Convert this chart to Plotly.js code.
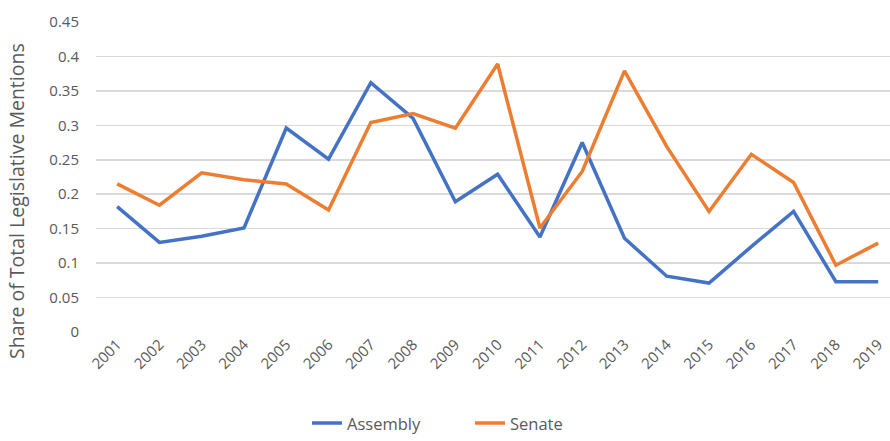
<!DOCTYPE html>
<html>
<head>
<meta charset="utf-8">
<script src="https://cdn.plot.ly/plotly-3.0.1.min.js"></script>
<style>html,body{margin:0;padding:0;background:#fff;}#chart{width:890px;height:441px;}</style>
</head>
<body>
<div id="chart"></div>
<script>
const years = ['2001','2002','2003','2004','2005','2006','2007','2008','2009','2010','2011','2012','2013','2014','2015','2016','2017','2018','2019'];
const assembly = [0.182,0.130,0.139,0.151,0.296,0.251,0.362,0.310,0.189,0.229,0.138,0.275,0.136,0.081,0.071,0.124,0.175,0.073,0.073];
const senate = [0.215,0.184,0.231,0.221,0.215,0.177,0.304,0.317,0.296,0.389,0.151,0.233,0.379,0.269,0.175,0.258,0.217,0.097,0.129];
const yTicks = [0,0.05,0.1,0.15,0.2,0.25,0.3,0.35,0.4,0.45];
const yTickText = ['0','0.05','0.1','0.15','0.2','0.25','0.3','0.35','0.4','0.45'];

const fontFam = 'Liberation Sans Narrow, Open Sans, sans-serif';
const traces = [
  {x: years, y: assembly, name: 'Assembly', type: 'scatter', mode: 'lines',
   line: {color: '#4472C4', width: 3.5}},
  {x: years, y: senate, name: 'Senate', type: 'scatter', mode: 'lines',
   line: {color: '#ED7D31', width: 3.5}}
];
const layout = {
  width: 890, height: 441,
  margin: {l: 96, r: 0, t: 22, b: 109, autoexpand: false},
  paper_bgcolor: '#fff', plot_bgcolor: '#fff',
  font: {family: fontFam, color: '#595959', size: 15},
  showlegend: true,
  legend: {orientation: 'h', x: 0.471, xanchor: 'center', yref: 'container', y: 0.04, yanchor: 'middle',
           font: {size: 16.5, color: '#595959'}, entrywidth: 118, entrywidthmode: 'pixels'},
  xaxis: {type: 'category', range: [-0.5, 18.28], showgrid: false, zeroline: false,
          showline: false, ticks: '', tickangle: -45, tickfont: {size: 15},
          fixedrange: true, automargin: false},
  yaxis: {range: [0, 0.45], tickvals: yTicks, ticktext: yTickText, showgrid: true,
          gridcolor: '#d9d9d9', gridwidth: 1.5, zeroline: false, showline: false,
          ticks: '', ticklabelstandoff: 16, tickfont: {size: 15}, automargin: false},
  annotations: [{
    text: 'Share of Total Legislative Mentions', xref: 'paper', yref: 'paper',
    x: -0.101, y: 0.422, xanchor: 'center', yanchor: 'middle', textangle: -90,
    showarrow: false, font: {size: 19.5, color: '#595959'}
  }]
};
Plotly.newPlot('chart', traces, layout, {displayModeBar: false, staticPlot: true});
</script>
</body>
</html>
